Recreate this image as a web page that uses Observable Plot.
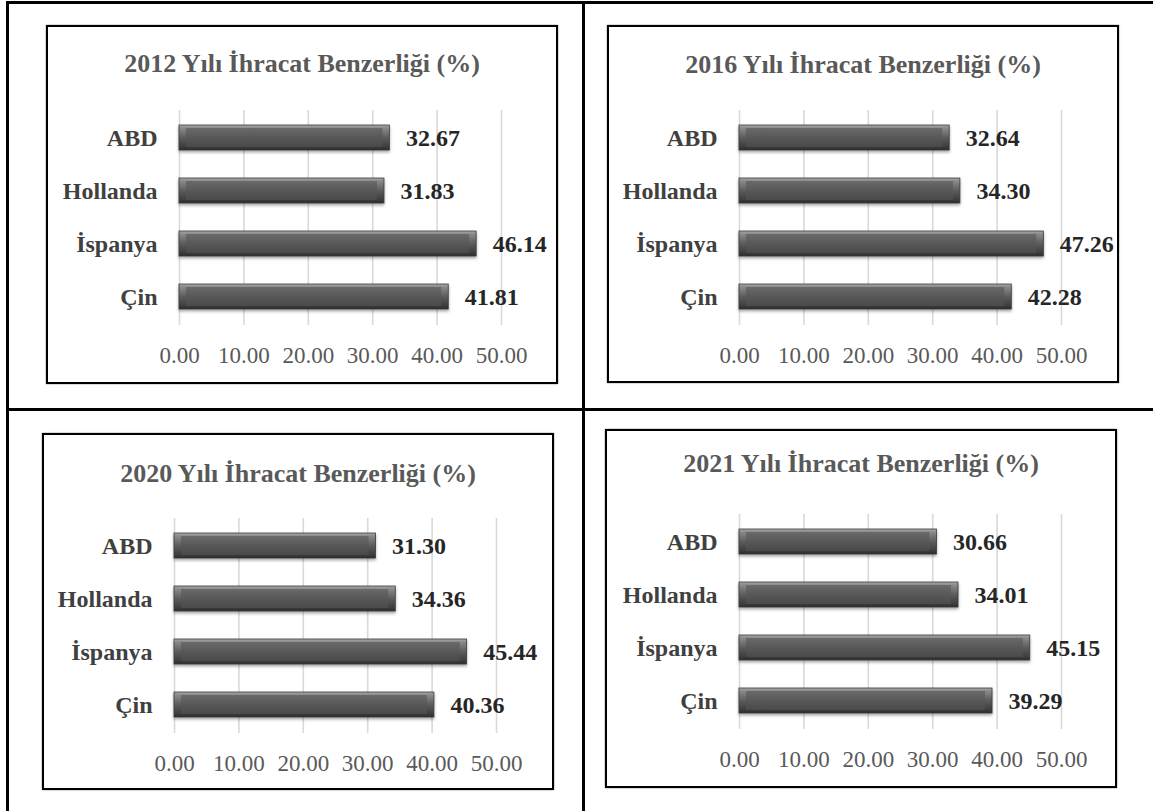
<!DOCTYPE html>
<html>
<head>
<meta charset="utf-8">
<script src="https://cdn.jsdelivr.net/npm/d3@7"></script>
<script src="https://cdn.jsdelivr.net/npm/@observablehq/plot@0.6"></script>
<style>
  html, body { margin: 0; padding: 0; background: #fff; }
  body { width: 1153px; height: 811px; position: relative; overflow: hidden; font-family: "Liberation Serif", "Times New Roman", serif; }
  .line { position: absolute; background: #000; }
  .panel { position: absolute; }
  .frame { position: absolute; left: 0; top: 0; right: 0; bottom: 0; border: 2px solid #000; box-sizing: border-box; box-shadow: 0 0 1.5px #777; }
  .title { position: absolute; left: 0; right: 0; text-align: center; font: bold 26px "Liberation Serif", serif; color: #595959; line-height: 30px; white-space: nowrap; }
  .panel svg { position: absolute; left: 0; overflow: visible; }
  .panel svg g.basebar rect { filter: drop-shadow(0px 2px 1.5px rgba(0,0,0,0.35)); }
</style>
</head>
<body>
<script>
// ---- data ----
const categories = ["ABD", "Hollanda", "İspanya", "Çin"];
const years = ["2012", "2016", "2020", "2021"];
const values2012 = [32.67, 31.83, 46.14, 41.81];
const values2016 = [32.64, 34.30, 47.26, 42.28];
const values2020 = [31.30, 34.36, 45.44, 40.36];
const values2021 = [30.66, 34.01, 45.15, 39.29];
const xTicks = [0, 10, 20, 30, 40, 50];
const titleSuffix = " Yılı İhracat Benzerliği (%)";

// ---- layout (positions only) ----
const panelLayout = [
  {left: 46,  top: 25,  w: 512, h: 359, axis0: 133, titleY: 39},
  {left: 607, top: 25,  w: 512, h: 358, axis0: 132, titleY: 40},
  {left: 42,  top: 433, w: 512, h: 357, axis0: 132, titleY: 41},
  {left: 605, top: 429, w: 512, h: 359, axis0: 134, titleY: 35}
];
const tableLines = [
  {x: 6, y: 1, w: 3, h: 811},     // left border
  {x: 6, y: 1, w: 1153, h: 3},    // top border
  {x: 582, y: 1, w: 3, h: 811},   // middle vertical
  {x: 6, y: 408, w: 1153, h: 3}   // middle horizontal
];

for (const l of tableLines) {
  const d = document.createElement("div");
  d.className = "line";
  Object.assign(d.style, {left: l.x + "px", top: l.y + "px", width: l.w + "px", height: l.h + "px"});
  document.body.appendChild(d);
}

const seriesValues = [values2012, values2016, values2020, values2021];
const fmt = d3.format(".2f");

seriesValues.forEach((vals, i) => {
  const L = panelLayout[i];
  const data = categories.map((c, j) => ({category: c, value: vals[j]}));

  const panel = document.createElement("div");
  panel.className = "panel";
  Object.assign(panel.style, {left: L.left + "px", top: L.top + "px", width: L.w + "px", height: L.h + "px"});

  const frame = document.createElement("div");
  frame.className = "frame";
  panel.appendChild(frame);

  const title = document.createElement("div");
  title.className = "title";
  title.textContent = years[i] + titleSuffix;
  title.style.top = (L.titleY - 15) + "px";
  panel.appendChild(title);

  const svgTop = 75;
  const gridTop = 85, gridBottom = 300;
  const svgH = 280;
  const chart = Plot.plot({
    width: L.w,
    height: svgH,
    marginTop: gridTop - svgTop,
    marginBottom: svgH - (gridBottom - svgTop),
    marginLeft: L.axis0,
    marginRight: L.w - (L.axis0 + 322),
    style: {fontFamily: "'Liberation Serif', 'Times New Roman', serif", background: "transparent", overflow: "visible"},
    x: {domain: [0, 50], ticks: xTicks},
    y: {domain: categories, paddingInner: 0.52, paddingOuter: 0.26},
    marks: [
      Plot.gridX(xTicks, {stroke: "#d9d9d9", strokeOpacity: 1, strokeWidth: 1.6}),
      Plot.barX(data, {x: "value", y: "category", fill: `url(#bargrad${i})`, stroke: "#3a3a3a", strokeWidth: 0.8, className: "basebar"}),
      Plot.barX(data, {x: "value", y: "category", fill: `url(#facegrad${i})`, insetLeft: 7, insetRight: 7, insetTop: 3, insetBottom: 3}),
      Plot.text(data, {x: "value", y: "category", text: d => fmt(d.value), dx: 16, textAnchor: "start",
        fontSize: 24, fontWeight: "bold", fill: "#262626"}),
      Plot.axisX(xTicks, {tickSize: 0, tickPadding: 21, tickFormat: fmt, fontSize: 23, color: "#595959", label: null}),
      Plot.axisY({tickSize: 0, tickPadding: 22, fontSize: 24, fontWeight: "bold", color: "#404040", label: null})
    ]
  });
  chart.style.top = svgTop + "px";

  const svg = d3.select(chart);
  const defs = svg.insert("defs", ":first-child");
  const g = defs.append("linearGradient").attr("id", `bargrad${i}`).attr("x1", 0).attr("y1", 0).attr("x2", 0).attr("y2", 1);
  [[0, "#a8a8a8"], [0.12, "#8a8a8a"], [0.5, "#5c5c5c"], [0.88, "#3c3c3c"], [1, "#2a2a2a"]].forEach(([o, c]) =>
    g.append("stop").attr("offset", o).attr("stop-color", c));
  const f = defs.append("linearGradient").attr("id", `facegrad${i}`).attr("x1", 0).attr("y1", 0).attr("x2", 0).attr("y2", 1);
  [[0, "#6a6a6a"], [0.5, "#585858"], [1, "#4a4a4a"]].forEach(([o, c]) =>
    f.append("stop").attr("offset", o).attr("stop-color", c));

  panel.appendChild(chart);
  document.body.appendChild(panel);
});
</script>
</body>
</html>
